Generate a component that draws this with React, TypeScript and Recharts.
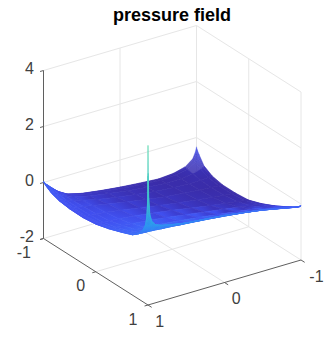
import { ComposedChart, ReferenceLine, Scatter, XAxis, YAxis } from "recharts";

const title = "pressure field";
const xTicks = [-1, 0, 1];
const yTicks = [-1, 0, 1];
const zTicks = [-2, 0, 2, 4];

// mesh lines bunch up towards the walls
const gridCoords = [-1, -0.985, -0.95, -0.85, -0.7, -0.5, -0.25, 0, 0.25, 0.5, 0.7, 0.82, 0.9, 0.95, 0.975, 0.99, 0.997, 1];

// pressure: one row per y, one column per x
const pressure = [
  [-0.33, -0.5, -0.72, -0.93, -1.04, -1.08, -1.03, -0.97, -0.89, -0.79, -0.65, -0.45, -0.25, -0.12, -0.06, -0.01, 0.03, 0.05],
  [-0.42, -0.58, -0.74, -0.94, -1.04, -1.08, -1.03, -0.96, -0.88, -0.78, -0.64, -0.45, -0.26, -0.13, -0.08, -0.04, -0.02, 0],
  [-0.55, -0.66, -0.78, -0.95, -1.04, -1.07, -1.02, -0.95, -0.86, -0.76, -0.62, -0.44, -0.27, -0.16, -0.12, -0.09, -0.08, -0.07],
  [-0.85, -0.88, -0.92, -1.0, -1.05, -1.05, -1.0, -0.92, -0.82, -0.71, -0.57, -0.44, -0.33, -0.27, -0.24, -0.22, -0.2, -0.2],
  [-1.02, -1.02, -1.03, -1.05, -1.05, -1.03, -0.97, -0.88, -0.77, -0.65, -0.52, -0.43, -0.37, -0.33, -0.31, -0.3, -0.3, -0.3],
  [-1.1, -1.1, -1.09, -1.07, -1.04, -0.99, -0.92, -0.82, -0.7, -0.58, -0.47, -0.41, -0.37, -0.36, -0.35, -0.35, -0.35, -0.35],
  [-1.1, -1.09, -1.08, -1.05, -1.0, -0.93, -0.84, -0.73, -0.61, -0.5, -0.41, -0.38, -0.36, -0.36, -0.36, -0.36, -0.36, -0.36],
  [-1.05, -1.04, -1.02, -0.98, -0.92, -0.84, -0.73, -0.61, -0.5, -0.41, -0.35, -0.32, -0.31, -0.3, -0.3, -0.3, -0.3, -0.3],
  [-0.88, -0.87, -0.85, -0.82, -0.76, -0.68, -0.57, -0.47, -0.37, -0.28, -0.23, -0.2, -0.19, -0.18, -0.17, -0.17, -0.17, -0.17],
  [-0.66, -0.65, -0.63, -0.6, -0.54, -0.46, -0.37, -0.27, -0.19, -0.11, -0.06, -0.04, -0.02, -0.01, 0, 0, 0, 0],
  [-0.45, -0.44, -0.42, -0.37, -0.31, -0.23, -0.14, -0.06, 0.01, 0.08, 0.12, 0.14, 0.15, 0.15, 0.15, 0.15, 0.15, 0.15],
  [-0.32, -0.31, -0.28, -0.22, -0.15, -0.07, 0.02, 0.1, 0.17, 0.23, 0.27, 0.3, 0.31, 0.32, 0.33, 0.33, 0.33, 0.33],
  [-0.23, -0.22, -0.19, -0.12, -0.05, 0.05, 0.14, 0.22, 0.29, 0.35, 0.41, 0.45, 0.49, 0.52, 0.54, 0.55, 0.55, 0.55],
  [-0.17, -0.16, -0.14, -0.07, 0.01, 0.12, 0.22, 0.31, 0.38, 0.44, 0.53, 0.6, 0.66, 0.74, 0.78, 0.8, 0.8, 0.8],
  [-0.13, -0.12, -0.1, -0.04, 0.04, 0.15, 0.26, 0.35, 0.42, 0.49, 0.58, 0.66, 0.74, 0.86, 1.0, 1.08, 1.1, 1.1],
  [-0.1, -0.09, -0.08, -0.03, 0.06, 0.17, 0.28, 0.38, 0.45, 0.51, 0.61, 0.68, 0.77, 0.92, 1.15, 1.5, 1.6, 1.6],
  [-0.07, -0.07, -0.07, -0.02, 0.07, 0.18, 0.29, 0.39, 0.46, 0.52, 0.62, 0.7, 0.78, 0.94, 1.18, 1.75, 2.4, 2.6],
  [-0.05, -0.06, -0.07, -0.02, 0.07, 0.19, 0.3, 0.4, 0.47, 0.53, 0.63, 0.7, 0.78, 0.95, 1.2, 1.8, 2.7, 3.7],
];

const colorLevels = [-1.1, -0.7, -0.35, 0, 0.3, 0.55, 0.95, 1.6, 3.7];
const colorStops = ["#3a2ba6", "#3b38c6", "#4050f0", "#3f64f7", "#3a74f5", "#3088f5", "#2aa4e8", "#3bc4d0", "#62dab2"];

const W = 332;
const H = 344;

// view: y runs left corner -> front corner, x runs right corner -> front corner
function project(x: number, y: number, z: number) {
  return {
    px: 148 + (y - 1) * 52.25 + (1 - x) * 76.5,
    py: 305 + (y - 1) * 33.25 - (1 - x) * 22.5 - (z + 2) * 28,
  };
}

function hexToRgb(hex: string) {
  return [1, 3, 5].map((i) => parseInt(hex.slice(i, i + 2), 16));
}

function colorOf(z: number) {
  let i = 0;
  while (i < colorLevels.length - 2 && z > colorLevels[i + 1]) i++;
  const t = Math.min(1, Math.max(0, (z - colorLevels[i]) / (colorLevels[i + 1] - colorLevels[i])));
  const a = hexToRgb(colorStops[i]);
  const b = hexToRgb(colorStops[i + 1]);
  return `rgb(${a.map((v, k) => Math.round(v + (b[k] - v) * t)).join(",")})`;
}

// back to front so the nearer cells paint over the farther ones
const cells: any[] = [];
for (let r = 0; r < gridCoords.length - 1; r++) {
  for (let c = 0; c < gridCoords.length - 1; c++) {
    const corners = [
      { ...project(gridCoords[c], gridCoords[r], pressure[r][c]), z: pressure[r][c] },
      { ...project(gridCoords[c + 1], gridCoords[r], pressure[r][c + 1]), z: pressure[r][c + 1] },
      { ...project(gridCoords[c + 1], gridCoords[r + 1], pressure[r + 1][c + 1]), z: pressure[r + 1][c + 1] },
      { ...project(gridCoords[c], gridCoords[r + 1], pressure[r + 1][c]), z: pressure[r + 1][c] },
    ];
    // the mesh lets the page show through at the foot of the spike and in the back cusp
    const open = (r >= 13 && r <= 15 && c >= 13 && c <= 15) || (r <= 2 && c <= 2);
    cells.push({ px: corners[0].px, py: corners[0].py, corners, open, id: `cell-${r}-${c}` });
  }
}

function SurfaceCell(props: any) {
  const { cx, cy, payload } = props;
  const at = (p: any) => [cx + p.px - payload.px, cy + p.py - payload.py];
  const pts = payload.corners.map((p: any) => at(p).join(",")).join(" ");
  const sorted = [...payload.corners].sort((a: any, b: any) => a.z - b.z);
  const low = sorted[0];
  const high = sorted[3];
  const [x1, y1] = at(low);
  const [x2, y2] = at(high);
  const paint = `url(#${payload.id})`;
  return (
    <g>
      <linearGradient id={payload.id} gradientUnits="userSpaceOnUse" x1={x1} y1={y1} x2={x2} y2={y2}>
        <stop offset="0" stopColor={colorOf(low.z)} />
        <stop offset="1" stopColor={colorOf(high.z)} />
      </linearGradient>
      <polygon points={pts} fill={paint} fillOpacity={payload.open ? 0.86 : 1} stroke={paint} strokeWidth={payload.open ? 0.3 : 0.7} />
    </g>
  );
}

const GRID = "#e6e6e6";
const AXIS = "#5f5f5f";

const segments: { color: string; pts: { px: number; py: number }[] }[] = [];
function addSegment(color: string, a: number[], b: number[]) {
  segments.push({ color, pts: [project(a[0], a[1], a[2]), project(b[0], b[1], b[2])] });
}

zTicks.forEach((z) => {
  addSegment(GRID, [1, -1, z], [-1, -1, z]);
  addSegment(GRID, [-1, -1, z], [-1, 1, z]);
});
addSegment(GRID, [-1, -1, -2], [-1, -1, 4]);
addSegment(GRID, [-1, 1, -2], [-1, 1, 4]);
addSegment(GRID, [0, -1, -2], [0, -1, 4]);
addSegment(GRID, [-1, 0, -2], [-1, 0, 4]);
addSegment(GRID, [0, -1, -2], [0, 1, -2]);
addSegment(GRID, [-1, 0, -2], [1, 0, -2]);
addSegment(AXIS, [1, -1, -2], [1, -1, 4]);
addSegment(AXIS, [1, -1, -2], [1, 1, -2]);
addSegment(AXIS, [1, 1, -2], [-1, 1, -2]);
zTicks.forEach((z) => addSegment(AXIS, [1, -1, z], [1.045, -1, z]));
yTicks.forEach((y) => addSegment(AXIS, [1, y, -2], [1.045, y, -2]));
xTicks.forEach((x) => addSegment(AXIS, [x, 1, -2], [x, 1.07, -2]));

const tickLabels = [
  ...zTicks.map((z) => ({ ...project(1, -1, z), text: String(z), dx: -9.5, dy: -2, anchor: "end" })),
  ...yTicks.map((y) => ({ ...project(1, y, -2), text: String(y), dx: y === -1 ? -12.5 : -10.5, dy: 14, anchor: "end" })),
  ...xTicks.map((x) => ({ ...project(x, 1, -2), text: String(x), dx: x === -1 ? 8.3 : 7.3, dy: 16, anchor: "start" })),
];

function TickText(props: any) {
  const { cx, cy, payload } = props;
  return (
    <text x={cx + payload.dx} y={cy + payload.dy} textAnchor={payload.anchor} dominantBaseline="central" fontFamily="Liberation Sans" fontSize={16} fill="#404040">
      {payload.text}
    </text>
  );
}

export default function App() {
  return (
    <div style={{ position: "absolute", left: 0, top: 0, width: W, height: H }}>
      <ComposedChart width={W} height={H} margin={{ top: 0, right: 0, bottom: 0, left: 0 }}>
        <XAxis dataKey="px" type="number" domain={[0, W]} hide />
        <YAxis dataKey="py" type="number" domain={[0, H]} reversed hide />
        {segments.map((s, i) => (
          <ReferenceLine key={i} segment={[{ x: s.pts[0].px, y: s.pts[0].py }, { x: s.pts[1].px, y: s.pts[1].py }]} stroke={s.color} strokeWidth={1} />
        ))}
        <Scatter data={cells} shape={SurfaceCell} isAnimationActive={false} />
        <Scatter data={tickLabels} shape={TickText} isAnimationActive={false} />
        <text x={172} y={21} textAnchor="middle" fontFamily="Liberation Sans" fontWeight="bold" fontSize={18} fill="#000">
          {title}
        </text>
      </ComposedChart>
    </div>
  );
}
